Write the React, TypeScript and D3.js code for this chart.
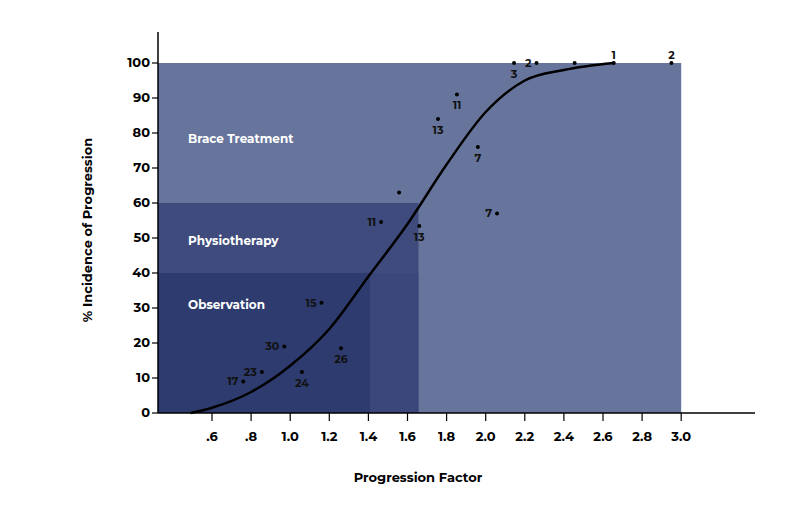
import * as d3 from 'd3';
import React from 'react';

const xTicks = [0.6, 0.8, 1.0, 1.2, 1.4, 1.6, 1.8, 2.0, 2.2, 2.4, 2.6, 2.8, 3.0];
const yTicks = [0, 10, 20, 30, 40, 50, 60, 70, 80, 90, 100];

// zones: name, x extent, y extent
const zoneNames = ['Brace Treatment', 'Physiotherapy', 'Observation'];
const zoneXMax = [3.0, 1.656, 1.41];
const zoneYMax = [100, 60, 40];
const zoneLabelY = [78, 49, 30.5];
const zoneColors = ['#67759c', '#3e4b7c', '#2e3b6e'];

const curve: [number, number][] = [
  [0.49, 0], [0.6, 1.5], [0.8, 6], [1.0, 13.5], [1.2, 24], [1.4, 39], [1.6, 54],
  [1.8, 71], [2.0, 86], [2.2, 95], [2.4, 98], [2.655, 100],
];

// x, y, label, label side
const pts: [number, number, string, string][] = [
  [0.76, 9, '17', 'l'], [0.855, 11.7, '23', 'l'], [0.97, 19, '30', 'l'], [1.06, 11.7, '24', 'b'],
  [1.26, 18.5, '26', 'b'], [1.16, 31.5, '15', 'l'], [1.465, 54.6, '11', 'l'], [1.66, 53.4, '13', 'b'],
  [1.557, 63, '', 'l'], [1.756, 84, '13', 'b'], [1.853, 91, '11', 'b'], [1.96, 76, '7', 'b'],
  [2.058, 57, '7', 'l'], [2.145, 100, '3', 'b'], [2.26, 100, '2', 'l'], [2.455, 100, '', 'l'],
  [2.655, 100, '1', 't'], [2.95, 100, '2', 't'],
];

const font = 'Montserrat, "Open Sans", Lato, sans-serif';

export default function App() {
  const x = d3.scaleLinear().domain([0, 3]).range([94.7, 681.2]);
  const y = d3.scaleLinear().domain([0, 100]).range([413, 63]);
  const line = d3.line<[number, number]>().x(d => x(d[0])).y(d => y(d[1])).curve(d3.curveMonotoneX);
  const x0 = 158;
  return (
    <svg width={800} height={513} style={{ position: 'absolute', left: 0, top: 0 }} fontFamily={font} fontWeight={700}>
      {zoneNames.map((n, i) => (
        <rect key={n} x={x0} y={y(zoneYMax[i])} width={x(zoneXMax[i]) - x0} height={y(0) - y(zoneYMax[i])} fill={zoneColors[i]} />
      ))}
      <rect x={x(1.41)} y={y(40)} width={x(1.656) - x(1.41)} height={y(0) - y(40)} fill="#3a4778" />
      {zoneNames.map((n, i) => (
        <text key={n} x={188} y={y(zoneLabelY[i])} fill="#fff" fontSize={12} dominantBaseline="middle">{n}</text>
      ))}
      <path d={line(curve) ?? ''} fill="none" stroke="#000" strokeWidth={2.5} />
      {pts.map((p, i) => {
        const px = x(p[0]), py = y(p[1]);
        const pos = p[3] === 'l' ? { x: px - 5, y: py + 1, a: 'end' } : p[3] === 'b' ? { x: px, y: py + 12, a: 'middle' } : { x: px, y: py - 7, a: 'middle' };
        return (
          <g key={i}>
            <circle cx={px} cy={py} r={2} fill="#000" />
            {p[2] && <text x={pos.x} y={pos.y} textAnchor={pos.a} dominantBaseline="middle" fontSize={11} fill="#111">{p[2]}</text>}
          </g>
        );
      })}
      <line x1={x0} x2={x0} y1={32} y2={413} stroke="#000" strokeWidth={1.5} />
      <line x1={x0} x2={755} y1={413} y2={413} stroke="#000" strokeWidth={1.5} />
      {yTicks.map(t => (
        <g key={t}>
          <line x1={x0 - 6} x2={x0} y1={y(t)} y2={y(t)} stroke="#000" strokeWidth={1.2} />
          <text x={x0 - 8} y={y(t)} textAnchor="end" dominantBaseline="middle" fontSize={13}>{t}</text>
        </g>
      ))}
      {xTicks.map(t => (
        <g key={t}>
          <line x1={x(t)} x2={x(t)} y1={413} y2={421} stroke="#000" strokeWidth={1.2} />
          <text x={x(t)} y={437} textAnchor="middle" dominantBaseline="middle" fontSize={13}>
            {t < 1 ? d3.format('.1f')(t).slice(1) : d3.format('.1f')(t)}
          </text>
        </g>
      ))}
      <text x={418} y={478} textAnchor="middle" dominantBaseline="middle" fontSize={13}>Progression Factor</text>
      <text transform="translate(88,230) rotate(-90)" textAnchor="middle" dominantBaseline="middle" fontSize={13}>% Incidence of Progression</text>
    </svg>
  );
}
